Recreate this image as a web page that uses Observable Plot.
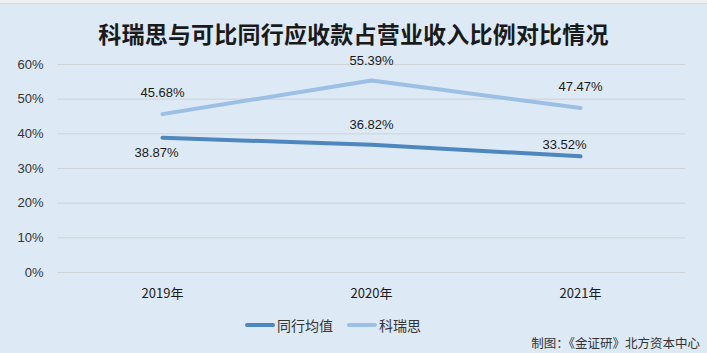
<!DOCTYPE html>
<html>
<head>
<meta charset="utf-8">
<script src="https://cdn.jsdelivr.net/npm/d3@7"></script>
<script src="https://cdn.jsdelivr.net/npm/@observablehq/plot@0.6"></script>
<style>
  html, body { margin: 0; padding: 0; }
  #wrap { position: relative; width: 707px; height: 353px; background: #dde9f5; overflow: hidden;
          font-family: "Liberation Sans", "Noto Sans CJK SC", sans-serif; }
  #strip { position: absolute; left: 0; top: 0; width: 707px; height: 3px; background: #eef0f2; border-bottom: 1px solid #d4d8dc; }
  #title { position: absolute; left: 0; top: 16px; width: 707px; text-align: center;
           font-family: "Noto Sans CJK SC", sans-serif; font-weight: bold; font-size: 23px; color: #1a1a1a; letter-spacing: 0.2px; }
  #chart { position: absolute; left: 0; top: 0; }
  #legend { position: absolute; top: 315px; left: 245px; display: flex; align-items: center;
            font-family: "Noto Sans CJK SC", sans-serif; font-size: 14px; color: #333; }
  .sw { display: inline-block; width: 30px; height: 4px; border-radius: 2px; margin-right: 2px; }
  #caption { position: absolute; right: 7px; top: 333px; font-family: "Noto Sans CJK SC", sans-serif; font-size: 12.5px; color: #333; }
</style>
</head>
<body>
<div id="wrap">
  <div id="strip"></div>
  <div id="chart"></div>
  <div id="title">科瑞思与可比同行应收款占营业收入比例对比情况</div>
  <div id="legend"></div>
  <div id="caption">制图：《金证研》北方资本中心</div>
</div>
<script>
const years = ["2019年", "2020年", "2021年"];
const seriesNames = ["同行均值", "科瑞思"];
const peerAvg = [38.87, 36.82, 33.52];
const kerui = [45.68, 55.39, 47.47];
const yTicks = [0, 10, 20, 30, 40, 50, 60];

const colors = { "同行均值": "#4e86be", "科瑞思": "#9cbfe5" };
// label placement (style only): offsets per series & year
const labelDy = { "同行均值": [15, -20, -11], "科瑞思": [-21, -20, -21] };
const labelDx = { "同行均值": [-6, 0, -16], "科瑞思": [0, 0, 0] };

const rows = [];
years.forEach((y, i) => {
  rows.push({ year: y, series: seriesNames[0], value: peerAvg[i], i });
  rows.push({ year: y, series: seriesNames[1], value: kerui[i], i });
});

const labelMarks = [];
rows.forEach(r => {
  labelMarks.push(Plot.text([r], {
    x: "year", y: "value", text: d => d.value.toFixed(2) + "%",
    dy: labelDy[r.series][r.i], dx: labelDx[r.series][r.i],
    fill: "#1a1a1a", fontSize: 13
  }));
});

const chart = Plot.plot({
  width: 707,
  height: 312,
  marginLeft: 57,
  marginRight: 22,
  marginTop: 64,
  marginBottom: 40,
  style: { background: "transparent", fontFamily: "'Liberation Sans', 'Noto Sans CJK SC', sans-serif", fontSize: "13px", color: "#333" },
  x: { type: "point", domain: years, padding: 0.5, label: null },
  y: { domain: [0, 60], label: null },
  marks: [
    Plot.ruleY(yTicks, { stroke: "#cfd3d6", strokeWidth: 1 }),
    Plot.axisY({ ticks: yTicks, tickFormat: d => d + "%", tickSize: 0, tickPadding: 14, label: null, fill: "#333", fontSize: 13 }),
    Plot.axisX({ tickSize: 0, tickPadding: 16, label: null, fill: "#1a1a1a", fontSize: 13, fontFamily: "'Noto Sans CJK SC', sans-serif" }),
    Plot.line(rows, { x: "year", y: "value", z: "series", stroke: d => colors[d.series], strokeWidth: 4, strokeLinecap: "round", strokeLinejoin: "round" }),
    ...labelMarks
  ]
});
document.getElementById("chart").appendChild(chart);

const legend = document.getElementById("legend");
seriesNames.forEach((s, k) => {
  const item = document.createElement("span");
  item.style.display = "inline-flex";
  item.style.alignItems = "center";
  item.style.marginRight = k === 0 ? "14px" : "0";
  const sw = document.createElement("span");
  sw.className = "sw";
  sw.style.background = colors[s];
  const t = document.createElement("span");
  t.textContent = s;
  item.appendChild(sw); item.appendChild(t);
  legend.appendChild(item);
});
</script>
</body>
</html>
